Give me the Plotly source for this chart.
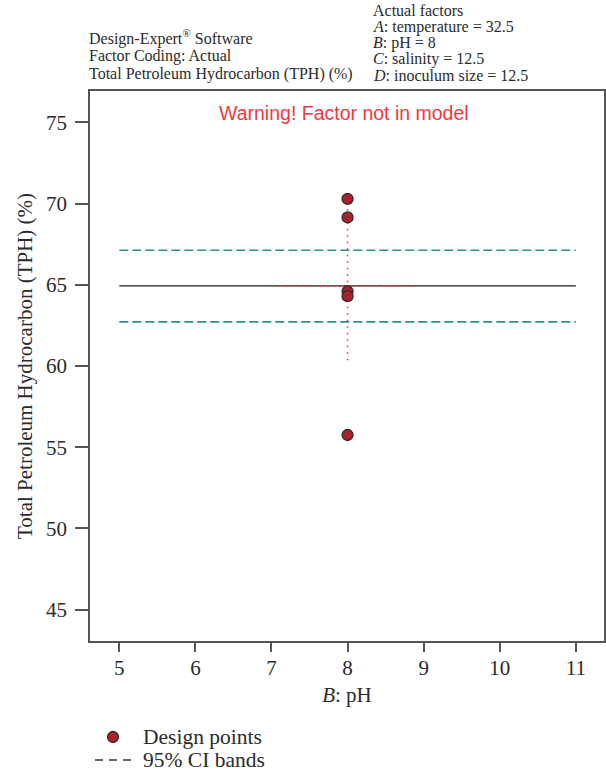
import plotly.graph_objects as go

# Data
design_x = [8, 8, 8, 8, 8]
design_y = [70.3, 69.15, 64.6, 64.3, 55.75]
mean_x = [5, 11]
mean_y = [64.93, 64.93]
ci_upper = [67.13, 67.13]
ci_lower = [62.72, 62.72]
lsd_vert_x = [8, 8]
lsd_vert_y = [60.35, 69.65]
lsd_horiz_x = [7.08, 8.9]
lsd_horiz_y = [64.93, 64.93]
x_ticks = [5, 6, 7, 8, 9, 10, 11]
y_ticks = [45, 50, 55, 60, 65, 70, 75]
legend_labels = ["Design points", "95% CI bands"]

SERIF = "Liberation Serif"
TXT = "#2b2b2b"
TEAL = "#2a918d"
RED_DOT = "#e23c44"
PT_FILL = "#a8202a"
PT_LINE = "#3a2a2a"

fig = go.Figure()

fig.add_trace(go.Scatter(x=mean_x, y=ci_upper, mode="lines",
                         line=dict(color=TEAL, width=1.6, dash="9px,4px"),
                         showlegend=False, hoverinfo="skip"))
fig.add_trace(go.Scatter(x=mean_x, y=ci_lower, mode="lines",
                         line=dict(color=TEAL, width=1.6, dash="9px,4px"),
                         showlegend=False, hoverinfo="skip"))
fig.add_trace(go.Scatter(x=mean_x, y=mean_y, mode="lines",
                         line=dict(color="#1a1a1a", width=1.3),
                         showlegend=False))
fig.add_trace(go.Scatter(x=lsd_horiz_x, y=lsd_horiz_y, mode="lines",
                         line=dict(color=RED_DOT, width=2, dash="2px,5px"),
                         showlegend=False))
fig.add_trace(go.Scatter(x=lsd_vert_x, y=lsd_vert_y, mode="lines",
                         line=dict(color=RED_DOT, width=1.6, dash="1.5px,5px"),
                         showlegend=False))
fig.add_trace(go.Scatter(x=design_x, y=design_y, mode="markers",
                         marker=dict(color=PT_FILL, size=11,
                                     line=dict(color=PT_LINE, width=1.3)),
                         name=legend_labels[0], showlegend=False))

W, H = 606, 775
L, R, T, B = 90, 2, 91, 134
pw, ph = W - L - R, H - T - B


def px(x):
    return (x - L) / pw


def py(y):
    return (H - B - y) / ph


annotations = []
left_lines = [
    ("Design-Expert<sup>®</sup> Software", 38),
    ("Factor Coding: Actual", 56),
    ("Total Petroleum Hydrocarbon (TPH) (%)", 74),
]
for t, yy in left_lines:
    annotations.append(dict(text=t, x=px(87), y=py(yy), xref="paper", yref="paper",
                            xanchor="left", yanchor="middle", showarrow=False,
                            font=dict(family=SERIF, size=16, color=TXT)))
right_lines = [
    ("Actual factors", 11),
    ("<i>A</i>: temperature = 32.5", 27),
    ("<i>B</i>: pH = 8", 43),
    ("<i>C</i>: salinity = 12.5", 59.5),
    ("<i>D</i>: inoculum size = 12.5", 76),
]
for t, yy in right_lines:
    annotations.append(dict(text=t, x=px(371), y=py(yy), xref="paper", yref="paper",
                            xanchor="left", yanchor="middle", showarrow=False,
                            font=dict(family=SERIF, size=16, color=TXT)))
annotations.append(dict(text="Warning! Factor not in model", x=px(344), y=py(113),
                        xref="paper", yref="paper", xanchor="center", yanchor="middle",
                        showarrow=False,
                        font=dict(family="Liberation Sans", size=19.5, color="#ee3a3f")))

# legend (drawn manually to match spacing)
for lbl, yy in zip(legend_labels, [737, 760]):
    annotations.append(dict(text=lbl, x=px(141), y=py(yy), xref="paper", yref="paper",
                            xanchor="left", yanchor="middle", showarrow=False,
                            font=dict(family=SERIF, size=21.5, color=TXT)))
shapes = [
    dict(type="circle", xref="paper", yref="paper",
         x0=px(107.5), x1=px(118.5), y0=py(731.5), y1=py(742.5),
         fillcolor=PT_FILL, line=dict(color=PT_LINE, width=1.3)),
    dict(type="line", xref="paper", yref="paper",
         x0=px(95), x1=px(131), y0=py(760), y1=py(760),
         line=dict(color="#333333", width=1.3, dash="8px,6px")),
]

fig.update_layout(
    width=W, height=H,
    margin=dict(l=L, r=R, t=T, b=B, autoexpand=False),
    paper_bgcolor="white", plot_bgcolor="white",
    font=dict(family=SERIF, color=TXT),
    showlegend=False,
    annotations=annotations,
    shapes=shapes,
    xaxis=dict(range=[4.615, 11.37], tickvals=x_ticks,
               ticktext=[str(v) for v in x_ticks],
               showgrid=False, zeroline=False, showline=True, linecolor="#555555",
               linewidth=1.5, mirror=True, ticks="outside", ticklen=9,
               tickcolor="#555555", tickwidth=1.5, ticklabelstandoff=-2,
               tickfont=dict(family=SERIF, size=21, color=TXT),
               title=dict(text="<i>B</i>: pH", standoff=8,
                          font=dict(family=SERIF, size=21, color=TXT))),
    yaxis=dict(range=[43.06, 76.94], tickvals=y_ticks,
               ticktext=[str(v) for v in y_ticks],
               showgrid=False, zeroline=False, showline=True, linecolor="#555555",
               linewidth=1.5, mirror=True, ticks="outside", ticklen=13,
               tickcolor="#555555", tickwidth=1.5, ticklabelstandoff=4,
               tickfont=dict(family=SERIF, size=21, color=TXT),
               title=dict(text="Total Petroleum Hydrocarbon (TPH) (%)", standoff=8,
                          font=dict(family=SERIF, size=21, color=TXT))),
)

fig.write_html("out.html")
